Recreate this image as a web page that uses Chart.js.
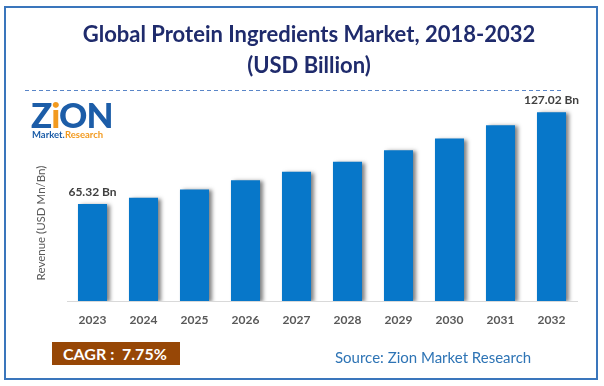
<!DOCTYPE html>
<html>
<head>
<meta charset="utf-8">
<script src="https://cdn.jsdelivr.net/npm/chart.js@4.4.1/dist/chart.umd.min.js"></script>
<style>
  body { margin: 0; background: #fff; font-family: Lato, "Open Sans", sans-serif; }
  #wrap { position: relative; width: 604px; height: 386px; overflow: hidden; }
  #chart { position: absolute; left: 0; top: 0; }
  .abs { position: absolute; white-space: nowrap; }
  .frame { left: 4px; top: 6px; width: 594px; height: 374px; box-sizing: border-box; border: 2px solid #3A76BC; }
  .title { left: 9px; width: 600px; text-align: center; color: #1F2B6C; font-weight: bold; font-size: 22px; height: 26px; line-height: 26px; }
  .dash { left: 25px; top: 90px; width: 537px; height: 1px;
    background: repeating-linear-gradient(to right, #5A86C8 0 4px, transparent 4px 7px); }
  .cagr { left: 52px; top: 342px; width: 128px; height: 23px; line-height: 23px; background: #974706;
    color: #fff; font-weight: bold; font-size: 16px; padding-left: 11px; box-sizing: border-box; }
  .source { left: 335px; top: 348px; height: 18px; line-height: 18px; color: #2E74B5; font-size: 15px; }
  .ytitle { left: -40px; top: 216px; width: 161px; height: 14px; line-height: 14px; text-align: center;
    color: #595959; font-size: 11.5px; transform: rotate(-90deg); }
  .logo1 { left: 31px; top: 97px; font-weight: 900; font-size: 35px; line-height: 34px; color: #1C5DA8; letter-spacing: -1px; }
  .logo2 { left: 32px; top: 129px; font-weight: bold; font-size: 9.5px; line-height: 11px; color: #1C5DA8; }
</style>
</head>
<body>
<div id="wrap">
  <canvas id="chart" width="604" height="386"></canvas>
  <div class="abs frame"></div>
  <div class="abs title" style="top:21px">Global Protein Ingredients Market, 2018-2032</div>
  <div class="abs title" style="top:52px">(USD Billion)</div>
  <div class="abs dash"></div>
  <div class="abs logo1"><span style="color:#1C5DA8">Z</span><span style="color:#F29A1F">i</span>ON</div>
  <div class="abs logo2">Market.<span style="color:#F29A1F">Research</span></div>
  <div class="abs ytitle">Revenue (USD Mn/Bn)</div>
  <div class="abs cagr">CAGR :&nbsp; 7.75%</div>
  <div class="abs source">Source: Zion Market Research</div>
</div>
<script>
// data
const years = ['2023', '2024', '2025', '2026', '2027', '2028', '2029', '2030', '2031', '2032'];
const revenue = [65.32, 69.5, 75.1, 81.2, 87.0, 93.8, 101.4, 109.3, 118.3, 127.02];
const labelled = [0, 9]; // bars that carry a value label

// soft shadow to the right of each bar
const barShadow = {
  id: 'barShadow',
  beforeDatasetsDraw(chart) {
    const ctx = chart.ctx;
    ctx.save();
    ctx.shadowColor = 'rgba(0, 0, 0, 0.5)';
    ctx.shadowOffsetX = 3;
    ctx.shadowOffsetY = 1;
    ctx.shadowBlur = 4;
  },
  afterDatasetsDraw(chart) {
    chart.ctx.restore();
  }
};

// "65.32 Bn" style labels over first and last bar
const valueLabels = {
  id: 'valueLabels',
  afterDatasetsDraw(chart) {
    const ctx = chart.ctx;
    const meta = chart.getDatasetMeta(0);
    ctx.save();
    ctx.font = 'bold 12px Lato, "Open Sans", sans-serif';
    ctx.fillStyle = '#404040';
    ctx.textAlign = 'center';
    ctx.textBaseline = 'middle';
    labelled.forEach(i => {
      const bar = meta.data[i];
      ctx.fillText(revenue[i].toFixed(2) + ' Bn', bar.x, bar.y - 12);
    });
    ctx.restore();
  }
};

new Chart(document.getElementById('chart'), {
  type: 'bar',
  data: {
    labels: years,
    datasets: [{
      data: revenue,
      backgroundColor: '#0777C9',
      borderWidth: 0,
      barPercentage: 0.57,
      categoryPercentage: 1.0
    }]
  },
  options: {
    responsive: false,
    animation: false,
    layout: { padding: { left: 67, right: 27, top: 93, bottom: 45 } },
    plugins: { legend: { display: false }, tooltip: { enabled: false } },
    scales: {
      x: {
        grid: { display: false, drawTicks: false },
        border: { display: true, color: '#D9D9D9', width: 1 },
        ticks: { color: '#595959', font: { family: 'Lato', weight: 'bold', size: 12 }, padding: 12 },
        afterFit(scale) { scale.height = 40; }
      },
      y: { display: false, min: 0, max: 140 }
    }
  },
  plugins: [barShadow, valueLabels]
});
</script>
</body>
</html>
